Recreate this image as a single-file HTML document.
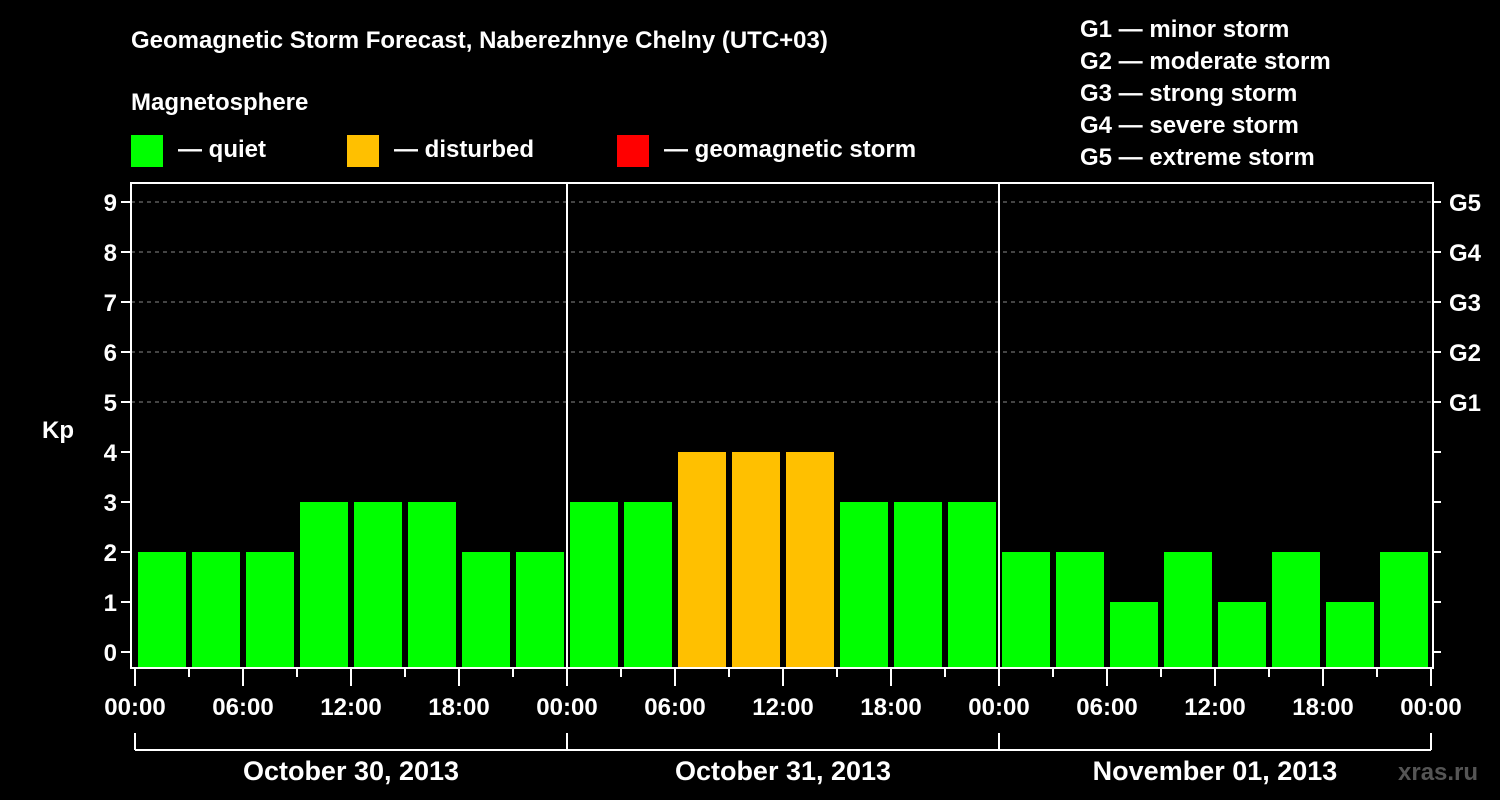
<!DOCTYPE html>
<html><head><meta charset="utf-8"><style>
html,body{margin:0;padding:0;background:#000;width:1500px;height:800px;overflow:hidden}
svg text{font-family:"Liberation Sans",Arial,sans-serif;font-weight:bold;fill:#fff}
</style></head><body>
<svg id="chart" width="1500" height="800" xmlns="http://www.w3.org/2000/svg">
<rect width="1500" height="800" fill="#000"/>
<text x="131" y="48" font-size="24">Geomagnetic Storm Forecast, Naberezhnye Chelny (UTC+03)</text>
<text x="131" y="110" font-size="24">Magnetosphere</text>
<g><rect x="131" y="135" width="32" height="32" fill="#00ff00"/><text x="178" y="157" font-size="24">— quiet</text></g>
<g><rect x="347" y="135" width="32" height="32" fill="#ffc000"/><text x="394" y="157" font-size="24">— disturbed</text></g>
<g><rect x="617" y="135" width="32" height="32" fill="#ff0000"/><text x="664" y="157" font-size="24">— geomagnetic storm</text></g>
<g font-size="24">
<text x="1080" y="37">G1 — minor storm</text>
<text x="1080" y="69">G2 — moderate storm</text>
<text x="1080" y="101">G3 — strong storm</text>
<text x="1080" y="133">G4 — severe storm</text>
<text x="1080" y="165">G5 — extreme storm</text>
</g>
<g id="grid"></g>
<g id="bars"></g>
<g id="axes"></g>
<text x="42" y="438" font-size="24">Kp</text>
<text x="1398" y="780" font-size="24" fill="#555" style="fill:#555">xras.ru</text>
</svg>
<script>
const kpValues=[2,2,2,3,3,3,2,2, 3,3,4,4,4,3,3,3, 2,2,1,2,1,2,1,2];
const kpColors=['#00ff00','#00ff00','#00ff00','#00ff00','#00ff00','#00ff00','#00ff00','#00ff00','#00ff00','#00ff00','#ffc000','#ffc000','#ffc000','#00ff00','#00ff00','#00ff00','#00ff00','#00ff00','#00ff00','#00ff00','#00ff00','#00ff00','#00ff00','#00ff00'];
const dayLabels=['October 30, 2013','October 31, 2013','November 01, 2013'];
const timeLabels=['00:00','06:00','12:00','18:00'];
const gLabels=['G1','G2','G3','G4','G5'];
const yTicks=[0,1,2,3,4,5,6,7,8,9];

const NS='http://www.w3.org/2000/svg';
const L=131,R=1433,T=183,B=668,X0=135,SLOT=54;
const y=v=>652-v*50;
const xs=i=>X0+i*SLOT;
function mk(p,tag,a){const e=document.createElementNS(NS,tag);for(const k in a)e.setAttribute(k,a[k]);p.appendChild(e);return e;}
const grid=document.getElementById('grid'),bars=document.getElementById('bars'),axes=document.getElementById('axes');
for(let v=5;v<=9;v++){
  const g=mk(grid,'line',{x1:L,x2:R,y1:y(v),y2:y(v),stroke:'#888','stroke-dasharray':'4,4','stroke-width':1});
  
  
}
kpValues.forEach((v,i)=>{
  const r=mk(bars,'rect',{x:xs(i)+3,y:y(v),width:48,height:B-y(v),fill:kpColors[i]});
  
  
});
const fr=mk(axes,'rect',{x:L,y:T,width:R-L,height:B-T,fill:'none',stroke:'#fff','stroke-width':2});


const nDays=dayLabels.length, nSlots=kpValues.length, perDay=nSlots/nDays;
for(let d=1;d<nDays;d++){
  const s=mk(axes,'line',{x1:xs(d*perDay),x2:xs(d*perDay),y1:T,y2:B,stroke:'#fff','stroke-width':2});
  
  
}
yTicks.forEach(v=>{
  mk(axes,'line',{x1:L-10,x2:L,y1:y(v),y2:y(v),stroke:'#fff','stroke-width':2});
  mk(axes,'line',{x1:R,x2:R+8,y1:y(v),y2:y(v),stroke:'#fff','stroke-width':2});
  const t=mk(axes,'text',{x:L-14,y:y(v)+9,'font-size':24,'text-anchor':'end'});t.textContent=v;
  
  
});
gLabels.forEach((g,i)=>{
  const t=mk(axes,'text',{x:1449,y:y(5+i)+9,'font-size':24});t.textContent=g;
  
  
});
for(let i=0;i<=nSlots;i++){
  const major=i%2===0;
  mk(axes,'line',{x1:xs(i),x2:xs(i),y1:B,y2:B+(major?18:9),stroke:'#fff','stroke-width':2});
  if(major){
    const t=mk(axes,'text',{x:xs(i),y:715,'font-size':24,'text-anchor':'middle'});
    t.textContent=timeLabels[(i/2)%timeLabels.length];
    
    
  }
}
mk(axes,'line',{x1:xs(0),x2:xs(nSlots),y1:750,y2:750,stroke:'#fff','stroke-width':2});
for(let d=0;d<=nDays;d++) mk(axes,'line',{x1:xs(d*perDay),x2:xs(d*perDay),y1:733,y2:750,stroke:'#fff','stroke-width':2});
dayLabels.forEach((lab,d)=>{
  const t=mk(axes,'text',{x:(xs(d*perDay)+xs((d+1)*perDay))/2,y:780,'font-size':27,'text-anchor':'middle'});
  t.textContent=lab;
  
  
});
</script>
</body></html>
